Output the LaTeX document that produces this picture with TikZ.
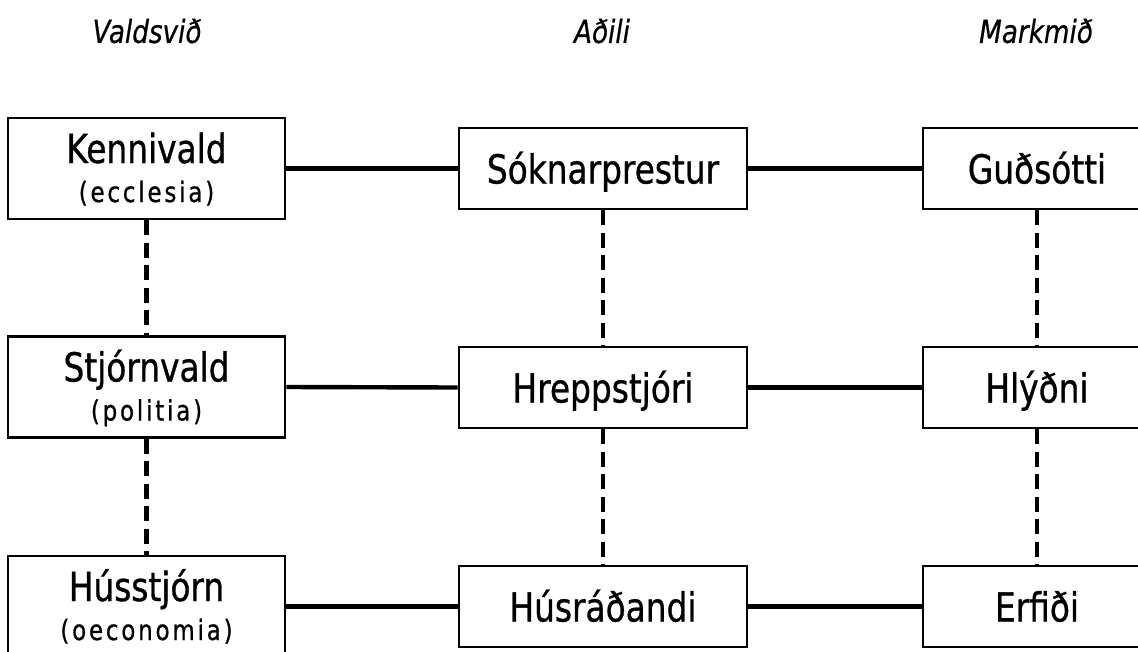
\documentclass[tikz,border=0pt]{standalone}
\usepackage{fontspec}
\setmainfont{DejaVu Sans}[FakeStretch=0.82, FakeBold=0.8, ItalicFont={DejaVu Sans Oblique}, ItalicFeatures={FakeStretch=0.82, FakeBold=0.6}]
\newfontfamily\subfnt{DejaVu Sans}[FakeStretch=0.82, FakeBold=0.8, LetterSpace=10]
\newcommand\mainsize{\fontsize{40}{44}\selectfont}
\newcommand\subsize{\subfnt\fontsize{28}{30}\selectfont}
\newcommand\twoline[2]{\vbox{\baselineskip=39pt\lineskiplimit=-100pt\halign{\hfil##\hfil\cr
  \mainsize\rule{0pt}{30pt}\smash{#1}\cr
  \subsize\smash{#2}\rule[-2pt]{0pt}{2pt}\cr}}}
\begin{document}
\begin{tikzpicture}[x=1pt,y=-1pt,
  box/.style={draw, line width=2.6pt, inner sep=0pt, minimum height=81pt},
  lbox/.style={box, minimum width=277pt, minimum height=101pt},
  mbox/.style={box, minimum width=288pt, text height=30pt, text depth=0pt, font=\mainsize},
  rbox/.style={box, minimum width=228pt, text height=30pt, text depth=0pt, font=\mainsize},
  title/.style={font=\fontsize{32}{34}\selectfont\itshape},
  link/.style={line width=4.4pt},
  dlink/.style={line width=4.4pt, dash pattern=on 15pt off 7.5pt}]
\clip (0,0) rectangle (1138,651);
\fill[white] (0,0) rectangle (1138,651);
\node[title] (t1) at (147,31) {Valdsvið};
\node[title] (t2) at (602,31) {Aðili};
\node[title] (t3) at (1036,31) {Markmið};
\node[lbox] (l1) at (146.5,168.5) {\twoline{Kennivald}{(ecclesia)}};
\node[lbox] (l2) at (146.5,387) {\twoline{Stjórnvald}{(politia)}};
\node[lbox] (l3) at (146.5,606.5) {\twoline{Hússtjórn}{(oeconomia)}};
\node[mbox] (m1) at (603,168.5) {Sóknarprestur};
\node[mbox] (m2) at (603,387.5) {Hreppstjóri};
\node[mbox] (m3) at (603,606.5) {Húsráðandi};
\node[rbox] (r1) at (1037,168.5) {Guðsótti};
\node[rbox] (r2) at (1037,387.5) {Hlýðni};
\node[rbox] (r3) at (1037,606.5) {Erfiði};
\foreach \a/\b in {l1/m1,m1/r1,l2/m2,m2/r2,l3/m3,m3/r3}
  \draw[link] (\a.east) -- (\b.west);
\foreach \a/\b in {l1/l2,l2/l3,m1/m2,m2/m3,r1/r2,r2/r3}
  \draw[dlink] (\a.south) -- (\b.north);
\end{tikzpicture}
\end{document}
